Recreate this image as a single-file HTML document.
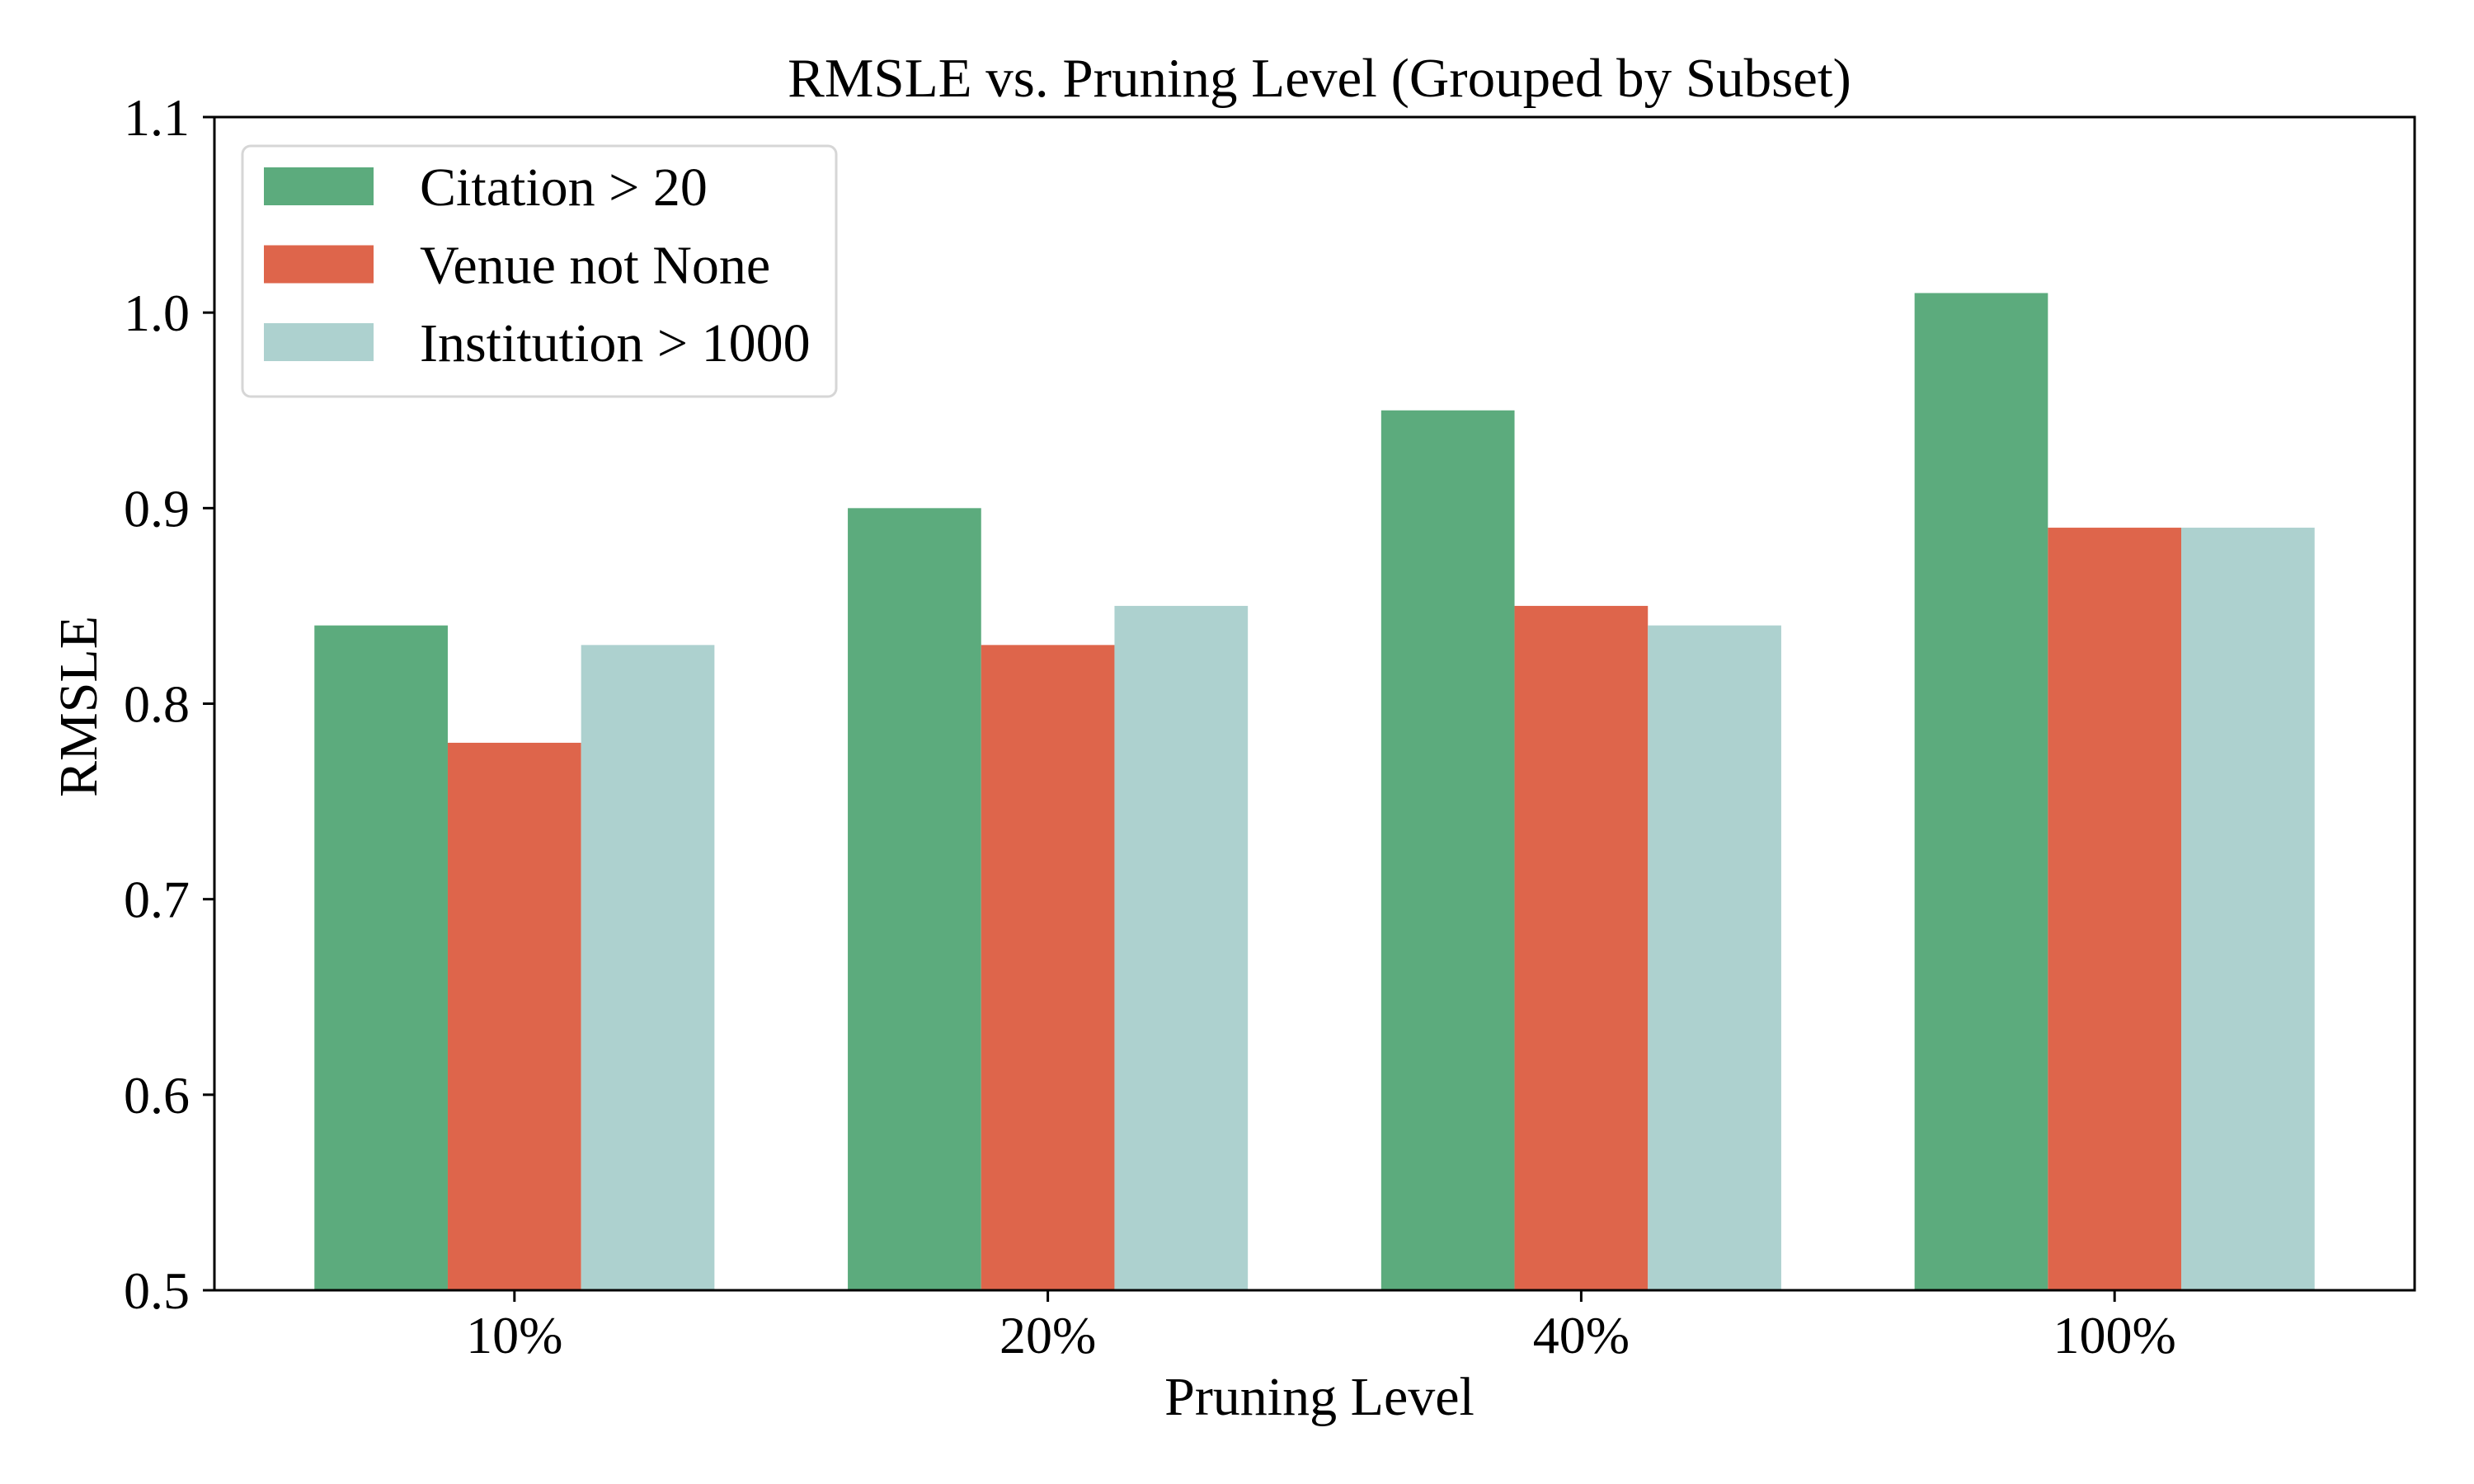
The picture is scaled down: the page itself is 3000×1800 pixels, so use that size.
<!DOCTYPE html>
<html><head><meta charset="utf-8"><style>
html,body{margin:0;padding:0;background:#fff;}
svg{display:block;font-family:"Liberation Serif",serif;}
</style></head><body>
<svg id="chart" width="3000" height="1800" viewBox="0 0 3000 1800">
<rect width="3000" height="1800" fill="#fff"/>
<text x="1600" y="117" font-size="67" text-anchor="middle">RMSLE vs. Pruning Level (Grouped by Subset)</text>
<g id="bars"></g>
<g id="axes"></g>
<text x="1600" y="1716" font-size="66" text-anchor="middle">Pruning Level</text>
<text transform="translate(117,857) rotate(-90)" font-size="66" text-anchor="middle">RMSLE</text>
<g id="legend">
<rect x="294" y="177" width="720" height="304" rx="10" fill="#fff" fill-opacity="0.8" stroke="#d6d6d6" stroke-width="3"/>
</g>
</svg>
<script>
const categories = ["10%", "20%", "40%", "100%"];
const seriesNames = ["Citation > 20", "Venue not None", "Institution > 1000"];
const citation = [0.84, 0.90, 0.95, 1.01];
const venue = [0.78, 0.83, 0.85, 0.89];
const institution = [0.83, 0.85, 0.84, 0.89];
const yTicks = [0.5, 0.6, 0.7, 0.8, 0.9, 1.0, 1.1];
const yTickLabels = ["0.5", "0.6", "0.7", "0.8", "0.9", "1.0", "1.1"];

const NS = "http://www.w3.org/2000/svg";
const L = 260, R = 2928, T = 142, B = 1565;
const xMin = -0.5625, xMax = 3.5625, yMin = 0.5, yMax = 1.1;
const xs = v => L + (v - xMin) / (xMax - xMin) * (R - L);
const ys = v => B - (v - yMin) / (yMax - yMin) * (B - T);
const colors = ["#5cab7d", "#de654b", "#add1cf"];
const series = [citation, venue, institution];
const bw = 0.25;

function mk(tag, attrs, parent) {
  const e = document.createElementNS(NS, tag);
  for (const k in attrs) e.setAttribute(k, attrs[k]);
  parent.appendChild(e);
  return e;
}
const bars = document.getElementById("bars");
series.forEach((vals, s) => {
  vals.forEach((v, i) => {
    const c = i + (s - 1) * bw;
    const x0 = xs(c - bw / 2), x1 = xs(c + bw / 2);
    const r = mk("rect", {x: x0, y: ys(v), width: x1 - x0, height: ys(yMin) - ys(v), fill: colors[s]}, bars);
    
    
  });
});
const axes = document.getElementById("axes");
const frame = mk("rect", {x: L, y: T, width: R - L, height: B - T, fill: "none", stroke: "#000", "stroke-width": 3}, axes);


yTicks.forEach((t, i) => {
  const y = ys(t);
  mk("line", {x1: L - 14, x2: L, y1: y, y2: y, stroke: "#000", "stroke-width": 3}, axes);
  const tx = mk("text", {x: L - 30, y: y + 22, "font-size": 64, "text-anchor": "end"}, axes);
  tx.textContent = yTickLabels[i];
  
  
});
categories.forEach((c, i) => {
  const x = xs(i);
  mk("line", {x1: x, x2: x, y1: B, y2: B + 14, stroke: "#000", "stroke-width": 3}, axes);
  const tx = mk("text", {x: x, y: B + 76, "font-size": 64, "text-anchor": "middle"}, axes);
  tx.textContent = c;
  
  
});
const legend = document.getElementById("legend");
seriesNames.forEach((n, s) => {
  const y0 = 203 + s * 94.5;
  const p = mk("rect", {x: 320, y: y0, width: 133, height: 46, fill: colors[s]}, legend);
  
  
  const tx = mk("text", {x: 509, y: y0 + 46, "font-size": 66}, legend);
  tx.textContent = n;
  
  
});
</script>
</body></html>
